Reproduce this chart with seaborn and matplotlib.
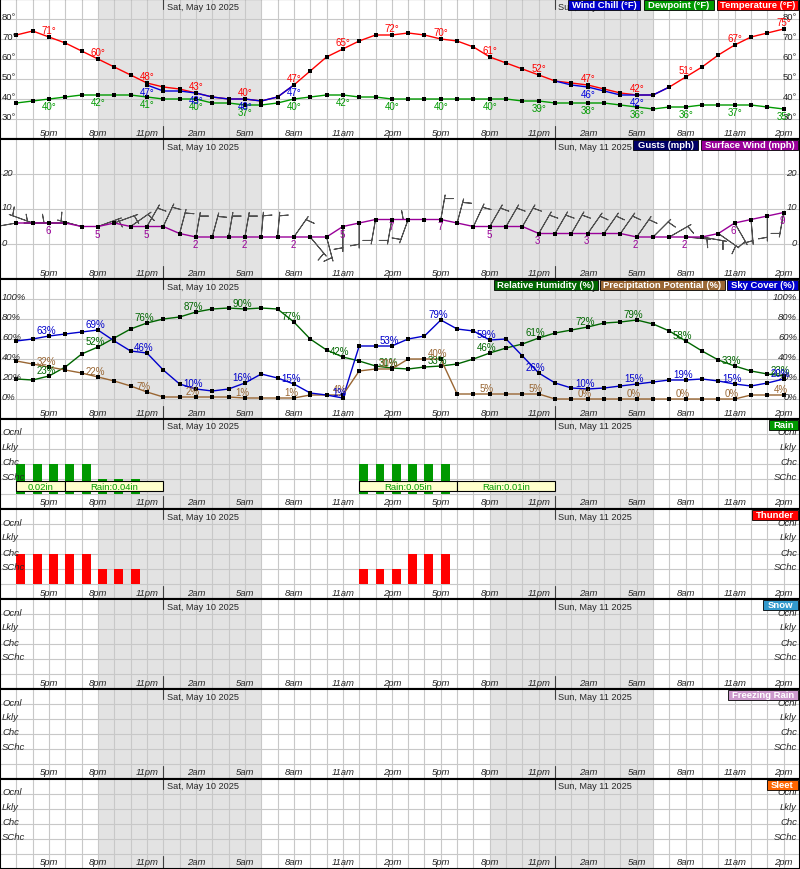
import numpy as np
import pandas as pd
import seaborn as sns
import matplotlib.pyplot as plt
from matplotlib.patches import Rectangle
from matplotlib.transforms import blended_transform_factory

sns.set_style('white')
plt.rcParams['font.family'] = ['Liberation Sans', 'DejaVu Sans']

# hourly axis: 3pm Fri -> 2pm Sun
hours = np.arange(48)
tick_hours = np.arange(2, 48, 3)
tick_names = ['5pm', '8pm', '11pm', '2am', '5am', '8am', '11am', '2pm'] * 2
day_hours = [9, 33]
day_names = ['Sat, May 10 2025', 'Sun, May 11 2025']
night_start = [5, 29]
night_end = [15, 39]

temperature = [72, 74, 71, 68, 64, 60, 56, 52, 48, 46, 45, 43, 41, 40, 40, 39, 41, 47, 54, 61, 65, 69, 72, 72,
               73, 72, 70, 69, 66, 61, 58, 55, 52, 49, 48, 47, 45, 43, 42, 42, 46, 51, 56, 62, 67, 71, 73, 75]
dewpoint = [38, 39, 40, 41, 42, 42, 42, 42, 41, 40, 40, 40, 38, 38, 37, 37, 38, 40, 41, 42, 42, 41, 41, 40,
            40, 40, 40, 40, 40, 40, 40, 39, 39, 38, 38, 38, 38, 37, 36, 35, 36, 36, 37, 37, 37, 37, 36, 35]
nan = np.nan
wind_chill = [nan] * 8 + [47, 44, 44, 43, 41, 40, 40, 39, 41, 47] + [nan] * 15 + \
             [49, 47, 46, 44, 42, 42, 42, 46] + [nan] * 7

wind_speed = [6, 6, 6, 6, 5, 5, 6, 5, 5, 5, 3, 2, 2, 2, 2, 2, 2, 2, 2, 2, 5, 6, 7, 7,
              7, 7, 7, 6, 5, 5, 5, 5, 3, 3, 3, 3, 3, 3, 2, 2, 2, 2, 2, 3, 6, 7, 8, 9]
wind_dir = [260, 290, 270, 270, 285, 70, 70, 55, 30, 25, 15, 10, 15, 10, 10, 5, 5, 35, 140, 165, 180, 180, 190, 190,
            200, 270, 10, 15, 25, 30, 30, 30, 30, 30, 30, 35, 35, 35, 35, 45, 60, 95, 100, 125, 150, 175, 180, 190]

rel_humidity = [20, 19, 23, 32, 45, 52, 61, 70, 76, 80, 82, 87, 90, 91, 90, 91, 90, 77, 60, 49, 42, 38, 33, 31,
                30, 32, 33, 35, 40, 46, 51, 55, 61, 66, 69, 72, 76, 77, 79, 75, 68, 58, 48, 39, 33, 28, 25, 23]
precip_pot = [38, 35, 32, 29, 26, 22, 18, 13, 7, 2, 2, 2, 2, 2, 1, 1, 1, 1, 4, 4, 4, 28, 30, 30,
              40, 40, 40, 5, 5, 5, 5, 5, 5, 0, 0, 0, 0, 0, 0, 0, 0, 0, 0, 0, 0, 4, 4, 4]
sky_cover = [58, 60, 63, 65, 67, 69, 58, 48, 46, 29, 15, 10, 8, 10, 16, 25, 21, 15, 6, 4, 1, 53, 53, 53,
             60, 63, 79, 70, 68, 59, 60, 43, 26, 16, 11, 10, 11, 13, 15, 17, 19, 19, 20, 18, 15, 13, 16, 20]

# 0 none, 1 SChc, 2 Chc, 3 Lkly, 4 Ocnl
rain_level = [2, 2, 2, 2, 2, 1, 1, 1] + [0] * 13 + [2, 2, 2, 2, 2, 2] + [0] * 21
thunder_level = [2, 2, 2, 2, 2, 1, 1, 1] + [0] * 13 + [1, 1, 1, 2, 2, 2] + [0] * 21
qpf_start = [0, 3, 21, 27]
qpf_end = [3, 9, 27, 33]
qpf_text = ['0.02in', 'Rain:0.04in', 'Rain:0.05in', 'Rain:0.01in']
level_names = ['SChc', 'Chc', 'Lkly', 'Ocnl']

W, H = 800, 870
GRID = '#c8c8c8'
fig = plt.figure(figsize=(W / 100, H / 100), dpi=100)


def panel(top, height, ylim, hlines):
    ax = fig.add_axes([0, 1 - (top + height) / H, 1, height / H])
    ax.set_xlim(-1, 48)
    ax.set_ylim(*ylim)
    ax.set_xticks([])
    ax.set_yticks([])
    for s in ax.spines.values():
        s.set_color('black')
        s.set_linewidth(1.5)
        s.set_zorder(10)
    for a, b in zip(night_start, night_end):
        ax.axvspan(a, b, color='#e3e3e3', lw=0, zorder=0)
    for h in hours:
        ax.axvline(h, color=GRID, lw=0.8, zorder=1)
    for v in hlines:
        ax.axhline(v, color=GRID, lw=0.8, zorder=1)
    tr = blended_transform_factory(ax.transData, ax.transAxes)
    for h, name in zip(tick_hours, tick_names):
        ax.text(h, 7 / height, name, transform=tr, ha='center', va='center',
                fontsize=6.8, style='italic', zorder=5)
    for d, name in zip(day_hours, day_names):
        ax.plot([d, d], [1 - 10 / height, 1], transform=tr, color='#404040', lw=0.8, zorder=3)
        ax.plot([d, d], [0, 13 / height], transform=tr, color='#404040', lw=0.8, zorder=3)
        ax.text(d + 0.2, 1 - 7 / height, name, transform=tr, ha='left', va='center',
                fontsize=6.6, zorder=5)
    return ax


def yaxis_labels(ax, values, fmt, italic=True):
    tr = blended_transform_factory(ax.transAxes, ax.transData)
    st = 'italic' if italic else 'normal'
    for v in values:
        for x, ha in ((2 / W, 'left'), (1 - 3 / W, 'right')):
            ax.annotate(fmt.format(v), (x, v), xycoords=tr, xytext=(0, 2),
                        textcoords='offset pixels', ha=ha, va='center',
                        fontsize=6.8, style=st, zorder=5)


def legend(ax, height, items):
    # items: (x0 px, x1 px, text, facecolor)
    for x0, x1, text, fc in items:
        ax.add_patch(Rectangle((x0 / W, 1 - 11 / height), (x1 - x0) / W, 10 / height,
                               transform=ax.transAxes, facecolor=fc, edgecolor='black',
                               lw=0.6, zorder=8, clip_on=False))
        ax.text((x0 + x1) / 2 / W, 1 - 6 / height, text, transform=ax.transAxes,
                ha='center', va='center', color='white', fontsize=6.8,
                fontweight='bold', zorder=9)


def series(ax, y, color, z=4):
    df = pd.DataFrame({'hour': hours, 'val': y}).dropna()
    # split into continuous runs
    runs = (df['hour'].diff() != 1).cumsum()
    for _, part in df.groupby(runs):
        sns.lineplot(data=part, x='hour', y='val', ax=ax, color=color, lw=1,
                     marker='s', markersize=3, markerfacecolor='black',
                     markeredgecolor='black', markeredgewidth=0, zorder=z)
    ax.set_xlabel('')
    ax.set_ylabel('')


def value_labels(ax, y, color, dy, fmt, dx=0, idx=tick_hours):
    for h in idx:
        v = y[h]
        if np.isnan(v):
            continue
        ax.annotate(fmt.format(int(v)), (h, v), xytext=(dx, dy), textcoords='offset pixels',
                    ha='center', va='center', color=color, fontsize=7, zorder=7)


# ---- temperature panel
ax1 = panel(0, 140, (20, 90), range(30, 90, 10))
yaxis_labels(ax1, range(30, 90, 10), '{}°', italic=False)
series(ax1, temperature, '#ff0000', 4)
series(ax1, dewpoint, '#009900', 4)
series(ax1, wind_chill, '#0000dd', 5)
value_labels(ax1, temperature, '#ff0000', 7, '{}°')
value_labels(ax1, dewpoint, '#009900', -7, '{}°')
value_labels(ax1, wind_chill, '#0000dd', -7, '{}°')
legend(ax1, 140, [(568, 640, 'Wind Chill (°F)', '#0000cc'),
                  (644, 714, 'Dewpoint (°F)', '#009900'),
                  (717, 798, 'Temperature (°F)', '#ff0000')])

# ---- wind panel
ax2 = panel(140, 140, (-10, 30), [0, 10, 20])
yaxis_labels(ax2, [0, 10, 20], '{}')
rad = np.deg2rad(wind_dir)
u = -np.array(wind_speed) * np.sin(rad)
v = -np.array(wind_speed) * np.cos(rad)
ax2.barbs(hours, wind_speed, u, v, length=6, color='#505050', lw=0.7, zorder=3,
          barb_increments=dict(half=1, full=1000, flag=10000),
          sizes=dict(height=0.7, spacing=0.1, emptybarb=0))
series(ax2, wind_speed, '#990099', 4)
value_labels(ax2, wind_speed, '#990099', -7, '{}', dx=-1)
legend(ax2, 140, [(633, 698, 'Gusts (mph)', '#000066'),
                  (701, 798, 'Surface Wind (mph)', '#990099')])

# ---- humidity panel
ax3 = panel(280, 140, (-20, 120), range(0, 101, 20))
yaxis_labels(ax3, range(0, 101, 20), '{}%')
series(ax3, rel_humidity, '#006600', 4)
series(ax3, precip_pot, '#996633', 4)
series(ax3, sky_cover, '#0000cc', 5)
value_labels(ax3, rel_humidity, '#006600', 6, '{}%', dx=-3)
value_labels(ax3, precip_pot, '#996633', 6, '{}%', dx=-3)
value_labels(ax3, sky_cover, '#0000cc', 6, '{}%', dx=-3)
legend(ax3, 140, [(494, 598, 'Relative Humidity (%)', '#006600'),
                  (600, 725, 'Precipitation Potential (%)', '#996633'),
                  (727, 798, 'Sky Cover (%)', '#0000cc')])

# ---- weather type panels
wx_panels = [('Rain', rain_level, '#009900', 769),
             ('Thunder', thunder_level, '#ff0000', 752),
             ('Snow', [0] * 48, '#3399cc', 763),
             ('Freezing Rain', [0] * 48, '#cc99cc', 728),
             ('Sleet', [0] * 48, '#ff6600', 767)]
for i, (name, levels, color, x0) in enumerate(wx_panels):
    ax = panel(420 + 90 * i, 90, (-1, 5), range(0, 5))
    tr = blended_transform_factory(ax.transAxes, ax.transData)
    for k, lab in enumerate(level_names, start=1):
        for x, ha in ((2 / W, 'left'), (1 - 3 / W, 'right')):
            ax.annotate(lab, (x, k), xycoords=tr, xytext=(0, 2), textcoords='offset pixels',
                        ha=ha, va='center', fontsize=6.8, style='italic', zorder=5)
    ax.bar(hours, levels, width=0.55, align='edge', color=color, lw=0, zorder=3)
    if name == 'Rain':
        widths = np.array(qpf_end) - np.array(qpf_start)
        ax.bar(qpf_start, [0.67] * len(qpf_start), width=widths, bottom=0.2, align='edge',
               color='#ffffcc', edgecolor='black', lw=0.8, zorder=4)
        for s, e, t in zip(qpf_start, qpf_end, qpf_text):
            ax.text((s + e) / 2, 0.53, t, ha='center', va='center', color='#009900',
                    fontsize=6.8, zorder=5)
    legend(ax, 90, [(x0, 798, name, color)])

fig.savefig('out.png', dpi=100)
